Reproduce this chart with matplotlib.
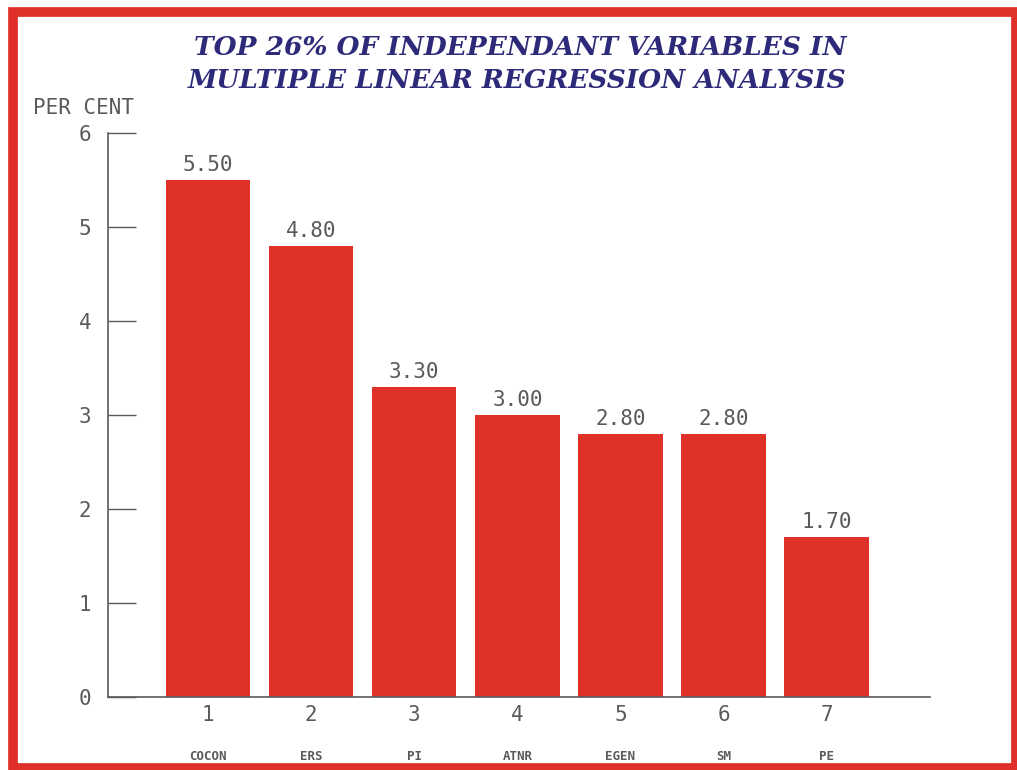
import matplotlib.pyplot as plt
from matplotlib.patches import Rectangle

# data
positions = [1, 2, 3, 4, 5, 6, 7]
names = ['COCON', 'ERS', 'PI', 'ATNR', 'EGEN', 'SM', 'PE']
values = [5.50, 4.80, 3.30, 3.00, 2.80, 2.80, 1.70]
yticks = [0, 1, 2, 3, 4, 5, 6]

red = '#e0302a'
grey = '#5a5a5a'
mono = 'DejaVu Sans Mono'

fig = plt.figure(figsize=(10.17, 7.7), dpi=100)
fig.patch.set_facecolor('white')

# red frame round the picture
fig.patches.append(Rectangle((0.0125, 0.003), 0.987, 0.981, transform=fig.transFigure,
                             fill=False, edgecolor=red, linewidth=7, zorder=0))

ax = fig.add_axes([0.1062, 0.0948, 0.808, 0.7325])
ax.bar(positions, values, width=0.82, color=red, zorder=2)
for x, v in zip(positions, values):
    ax.text(x, v + 0.05, f'{v:.2f}', ha='center', va='bottom',
            fontsize=15, family=mono, color=grey)

ax.set_xlim(0.03, 8.0)
ax.set_ylim(0, 6)
ax.set_yticks(yticks)
ax.set_yticklabels([str(t) for t in yticks], family=mono, fontsize=15, color=grey)
ax.set_xticks(positions)
ax.set_xticklabels([str(p) for p in positions], family=mono, fontsize=15, color=grey)
ax.tick_params(axis='y', direction='in', length=20, color=grey, width=1, pad=12)
ax.tick_params(axis='x', length=0, pad=6)

for s in ['top', 'right']:
    ax.spines[s].set_visible(False)
for s in ['left', 'bottom']:
    ax.spines[s].set_color(grey)
    ax.spines[s].set_linewidth(1.2)

for x, n in zip(positions, names):
    ax.text(x, -0.63, n, ha='center', va='center', fontsize=9,
            family=mono, color=grey, fontweight='bold')

fig.text(0.032, 0.86, 'PER CENT', family=mono, fontsize=15, color=grey, va='center')

fig.text(0.512, 0.938, 'TOP 26% OF INDEPENDANT VARIABLES IN', ha='center', va='center',
         family='DejaVu Serif', style='italic', fontweight='bold', fontsize=19, color='#2e2a7a')
fig.text(0.508, 0.895, 'MULTIPLE LINEAR REGRESSION ANALYSIS', ha='center', va='center',
         family='DejaVu Serif', style='italic', fontweight='bold', fontsize=19, color='#2e2a7a')

fig.savefig('out.png', dpi=100)
